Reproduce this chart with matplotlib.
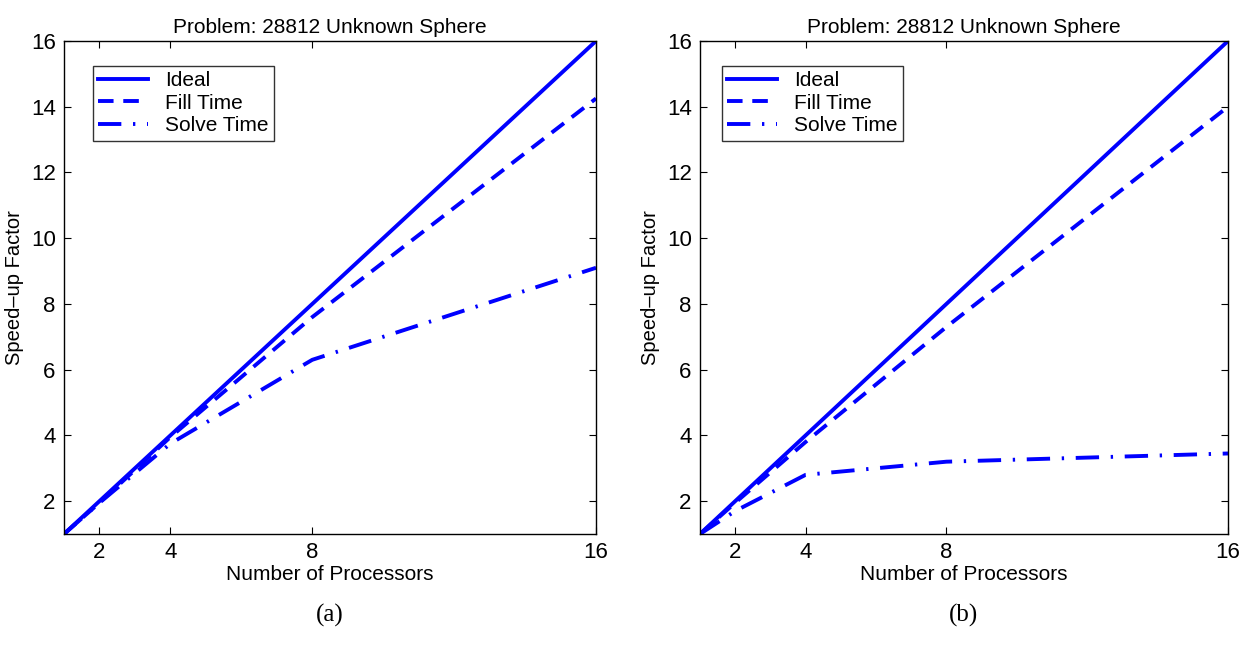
import matplotlib.pyplot as plt

# Processor counts and measured speed-ups
procs = [1, 2, 4, 8, 16]
ideal = [1, 2, 4, 8, 16]

fill_a = [1, 1.95, 3.95, 7.6, 14.25]
solve_a = [1, 1.95, 3.75, 6.3, 9.1]

fill_b = [1, 1.95, 3.8, 7.3, 14.0]
solve_b = [1, 1.7, 2.8, 3.2, 3.45]

title = 'Problem: 28812 Unknown Sphere'
captions = ['(a)', '(b)']

plt.rcParams['font.family'] = ['Liberation Sans', 'DejaVu Sans']

fig = plt.figure(figsize=(12.45, 6.68), dpi=100)
W, H = 1245, 668
ax_a = fig.add_axes([64 / W, 1 - 534 / H, 532 / W, 493 / H])
ax_b = fig.add_axes([700 / W, 1 - 534 / H, 528 / W, 493 / H])

blue = '#0000ff'
for ax, fill, solve, cap, lx in [(ax_a, fill_a, solve_a, captions[0], 0.055),
                                 (ax_b, fill_b, solve_b, captions[1], 0.042)]:
    ax.plot(procs, ideal, color=blue, lw=2.8, label='Ideal')
    ax.plot(procs, fill, color=blue, lw=2.8, dashes=(4, 2.5), label='Fill Time')
    ax.plot(procs, solve, color=blue, lw=2.8, dashes=(6, 3, 0.6, 3), label='Solve Time')
    ax.set_xlim(1, 16)
    ax.set_ylim(1, 16)
    ax.set_xticks([2, 4, 8, 16])
    ax.set_yticks(range(2, 17, 2))
    ax.tick_params(direction='in', top=True, right=True, labelsize=16, length=5, width=0.8,
                   pad=6)
    ax.set_xlabel('Number of Processors', fontsize=15, labelpad=1)
    ax.set_ylabel('Speed\u2013up Factor', fontsize=14.5, labelpad=5)
    ax.set_title(title, fontsize=15, pad=6)
    for s in ax.spines.values():
        s.set_linewidth(1.0)
    leg = ax.legend(loc='upper left', bbox_to_anchor=(lx, 0.95), fontsize=15,
                    frameon=True, fancybox=False, edgecolor='black', handlelength=2.4,
                    borderpad=0.25, labelspacing=0.18, handletextpad=0.8, borderaxespad=0)
    leg.get_frame().set_linewidth(1.0)
    ax.text(0.5, -0.165, cap, transform=ax.transAxes, ha='center', va='center',
            fontsize=18, family='Liberation Serif')

fig.savefig('out.png', dpi=100)
